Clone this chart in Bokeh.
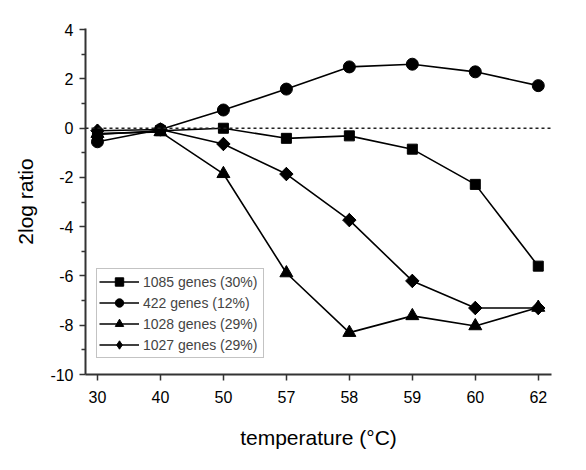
import math
from bokeh.plotting import figure
from bokeh.models import Range1d, Span, Legend, LegendItem, FixedTicker
from bokeh.embed import file_html
from bokeh.resources import INLINE

temps = ["30", "40", "50", "57", "58", "59", "60", "62"]
s1085 = [-0.25, -0.1, 0.0, -0.41, -0.31, -0.85, -2.28, -5.6]
s422 = [-0.55, -0.05, 0.74, 1.59, 2.49, 2.6, 2.29, 1.73]
s1028 = [-0.22, -0.15, -1.85, -5.88, -8.3, -7.62, -8.03, -7.28]
s1027 = [-0.1, -0.05, -0.64, -1.86, -3.73, -6.2, -7.3, -7.3]
names = ["1085 genes (30%)", "422 genes (12%)", "1028 genes (29%)", "1027 genes (29%)"]
y_ticks = [-10, -8, -6, -4, -2, 0, 2, 4]
y_minor = [-9, -7, -5, -3, -1, 1, 3]

xs = list(range(len(temps)))
FONT = "Liberation Sans"

p = figure(width=570, height=454, output_backend="svg", toolbar_location=None,
           x_range=Range1d(-0.19, 7.21), y_range=Range1d(-10, 4.05),
           min_border_left=85, min_border_right=19, min_border_top=28, min_border_bottom=80)
p.outline_line_color = None
p.grid.visible = False
p.background_fill_color = "white"

zero = Span(location=0, dimension="width", line_color="#222222", line_width=1.5, line_dash="3 3")
p.add_layout(zero)

r1 = p.line(xs, s1085, line_color="black", line_width=1.6)
m1 = p.scatter(xs, s1085, marker="square", size=10, fill_color="black", line_color="black")
r2 = p.line(xs, s422, line_color="black", line_width=1.6)
m2 = p.scatter(xs, s422, marker="circle", size=12, fill_color="black", line_color="black")
r3 = p.line(xs, s1028, line_color="black", line_width=1.6)
m3 = p.scatter(xs, s1028, marker="triangle", size=13, fill_color="black", line_color="black")
r4 = p.line(xs, s1027, line_color="black", line_width=1.6)
m4 = p.scatter(xs, s1027, marker="diamond", size=13, fill_color="black", line_color="black")
m4b = p.scatter(xs, s1027, marker="square", angle=math.pi / 4, size=9.5, fill_color="black", line_color="black")

legend = Legend(items=[LegendItem(label=names[0], renderers=[r1, m1]),
                       LegendItem(label=names[1], renderers=[r2, m2]),
                       LegendItem(label=names[2], renderers=[r3, m3]),
                       LegendItem(label=names[3], renderers=[r4, m4])],
                location=(11, 16), border_line_color="#888888", border_line_width=1,
                label_text_font=FONT, label_text_font_size="14px", glyph_width=40, glyph_height=21,
                spacing=0, padding=2, margin=0, label_standoff=4, label_height=20, label_width=118)
p.add_layout(legend, "center")

p.xaxis.ticker = FixedTicker(ticks=xs)
p.xaxis.major_label_overrides = {i: t for i, t in enumerate(temps)}
p.yaxis.ticker = FixedTicker(ticks=y_ticks, minor_ticks=y_minor)
p.yaxis.major_label_overrides = {v: str(v) for v in y_ticks}

for ax in (p.xaxis[0], p.yaxis[0]):
    ax.axis_line_width = 2
    ax.axis_line_color = "#333333"
    ax.major_tick_line_color = "#333333"
    ax.major_tick_line_width = 1.5
    ax.major_tick_out = 6
    ax.major_tick_in = 0
    ax.minor_tick_line_color = "#333333"
    ax.minor_tick_line_width = 1.5
    ax.minor_tick_out = 4
    ax.minor_tick_in = 0
    ax.major_label_text_font = FONT
    ax.major_label_text_font_size = "16px"
    ax.major_label_text_color = "black"
    ax.axis_label_text_font = FONT
    ax.axis_label_text_font_size = "21px"
    ax.axis_label_text_font_style = "normal"
    ax.axis_label_text_color = "black"
p.xaxis.minor_tick_line_color = None
p.xaxis.major_label_standoff = 10
p.yaxis.major_label_standoff = 6
p.xaxis.axis_label = "temperature (°C)"
p.yaxis.axis_label = "2log ratio"
p.xaxis.axis_label_standoff = 20
p.yaxis.axis_label_standoff = 10

open("out.html", "w").write(file_html(p, INLINE))
